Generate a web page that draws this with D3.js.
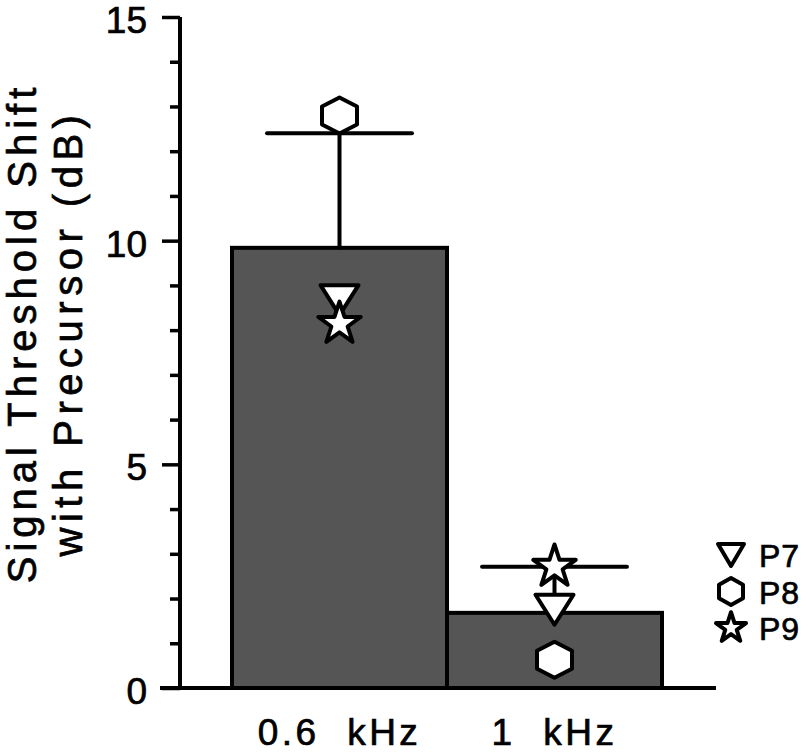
<!DOCTYPE html>
<html>
<head>
<meta charset="utf-8">
<script src="https://cdn.jsdelivr.net/npm/d3@7"></script>
<style>
  html, body { margin: 0; padding: 0; background: #ffffff; }
  svg { display: block; }
  text { font-family: "Liberation Sans", Arial, sans-serif; fill: #000; stroke: #000; stroke-width: 0.7px; }
</style>
</head>
<body>
<svg id="chart" width="810" height="752"></svg>
<script>
// ---- data ----
const categories = ["0.6 kHz", "1 kHz"];
const meanValues = [9.84, 1.68];
const errorValues = [2.56, 1.03];           // upper error bar length
const participants = ["P7", "P8", "P9"];
const p7Values = [8.67, 1.75];
const p8Values = [12.80, 0.63];
const p9Values = [8.14, 2.71];
const yTickLabels = [0, 5, 10, 15];
const yMinorTicks = [1, 2, 3, 4, 6, 7, 8, 9, 11, 12, 13, 14];

// ---- layout ----
const svg = d3.select("#chart");
const axisX = 180;
const y = d3.scaleLinear().domain([0, 15]).range([688, 17]);
const x = d3.scaleBand().domain(categories).range([232, 662]).paddingInner(0).paddingOuter(0);

// ---- symbol paths ----
function triDown(w, h) {
  return `M${-w/2},${-h/2}L${w/2},${-h/2}L0,${h/2}Z`;
}
function hexagon(hw, r) {
  return `M0,${-r}L${hw},${-r/2}L${hw},${r/2}L0,${r}L${-hw},${r/2}L${-hw},${-r/2}Z`;
}
function star(size) {
  return d3.symbol().type(d3.symbolStar).size(size)();
}
const symbolFor = {
  P7: (big) => big ? triDown(38, 30) : triDown(26, 22),
  P8: (big) => big ? hexagon(17.5, 18) : hexagon(12, 13.5),
  P9: (big) => big ? star(560) : star(280)
};

// ---- bars ----
svg.append("g").selectAll("rect")
  .data(categories)
  .join("rect")
  .attr("x", d => x(d))
  .attr("y", (d, i) => y(meanValues[i]))
  .attr("width", x.bandwidth())
  .attr("height", (d, i) => y(0) - y(meanValues[i]))
  .attr("fill", "#555555")
  .attr("stroke", "#000")
  .attr("stroke-width", 4)
  .attr("stroke-linejoin", "miter");

// ---- error bars ----
const capHalf = x.bandwidth() * 0.337;
const eb = svg.append("g").attr("stroke", "#000").attr("stroke-width", 4).attr("stroke-linecap", "round");
categories.forEach((c, i) => {
  const cx = x(c) + x.bandwidth() / 2;
  eb.append("line").attr("x1", cx).attr("x2", cx)
    .attr("y1", y(meanValues[i])).attr("y2", y(meanValues[i] + errorValues[i]));
  eb.append("line").attr("x1", cx - capHalf).attr("x2", cx + capHalf)
    .attr("y1", y(meanValues[i] + errorValues[i])).attr("y2", y(meanValues[i] + errorValues[i]));
});

// ---- axes ----
const yAxisMinor = d3.axisLeft(y).tickValues(yMinorTicks).tickSize(10).tickFormat("");
const yAxisMajor = d3.axisLeft(y).tickValues(yTickLabels).tickSize(18).tickPadding(15).tickFormat(d3.format("d"));

const gMinor = svg.append("g").attr("transform", `translate(${axisX},0)`).call(yAxisMinor);
gMinor.select(".domain").remove();
gMinor.selectAll("line").attr("stroke", "#000").attr("stroke-width", 3.5);

const gMajor = svg.append("g").attr("transform", `translate(${axisX},0)`).call(yAxisMajor);
gMajor.select(".domain").remove();
gMajor.selectAll("line").attr("stroke", "#000").attr("stroke-width", 3.5);
gMajor.selectAll("text")
  .attr("font-family", "Liberation Sans, Arial, sans-serif")
  .attr("font-size", 37)
  .attr("dy", "0.42em")
  .attr("fill", "#000");

// axis lines
svg.append("line")
  .attr("x1", axisX).attr("x2", axisX)
  .attr("y1", y(15)).attr("y2", y(0))
  .attr("stroke", "#000").attr("stroke-width", 4);
svg.append("line")
  .attr("x1", 160).attr("x2", 716)
  .attr("y1", y(0)).attr("y2", y(0))
  .attr("stroke", "#000").attr("stroke-width", 4);

// category labels
const xAxis = d3.axisBottom(x).tickSize(0).tickPadding(31).tickFormat(d => d.replace(" ", "\u00a0\u00a0"));
const gX = svg.append("g").attr("transform", `translate(0,${y(0)})`).call(xAxis);
gX.select(".domain").remove();
gX.selectAll("text")
  .attr("font-family", "Liberation Sans, Arial, sans-serif")
  .attr("font-size", 37)
  .attr("letter-spacing", "3.5px")
  .attr("fill", "#000");

// ---- participant markers ----
const seriesValues = { P7: p7Values, P8: p8Values, P9: p9Values };
const gm = svg.append("g");
participants.forEach(p => {
  gm.selectAll(null)
    .data(categories)
    .join("path")
    .attr("d", symbolFor[p](true))
    .attr("transform", (c, i) => `translate(${x(c) + x.bandwidth() / 2},${y(seriesValues[p][i])})`)
    .attr("fill", "#fff")
    .attr("stroke", "#000")
    .attr("stroke-width", 4)
    .attr("stroke-linejoin", "round");
});

// ---- legend ----
const legend = svg.append("g");
participants.forEach((p, i) => {
  const ly = 555 + i * 36.5;
  legend.append("path")
    .attr("d", symbolFor[p](false))
    .attr("transform", `translate(731,${ly})`)
    .attr("fill", "#fff").attr("stroke", "#000").attr("stroke-width", 4)
    .attr("stroke-linejoin", "round");
  legend.append("text")
    .attr("x", 759).attr("y", ly + 12)
    .attr("font-size", 32)
    .attr("letter-spacing", "1px")
    .text(p);
});

// ---- y title ----
const yTitle = svg.append("g").attr("transform", "translate(0,333) rotate(-90)");
yTitle.append("text")
  .attr("x", 0).attr("y", 36)
  .attr("text-anchor", "middle")
  .attr("font-size", 40)
  .attr("letter-spacing", "5px")
  .text("Signal Threshold Shift");
yTitle.append("text")
  .attr("x", 0).attr("y", 82)
  .attr("text-anchor", "middle")
  .attr("font-size", 40)
  .attr("letter-spacing", "5.5px")
  .text("with Precursor (dB)");
</script>
</body>
</html>
